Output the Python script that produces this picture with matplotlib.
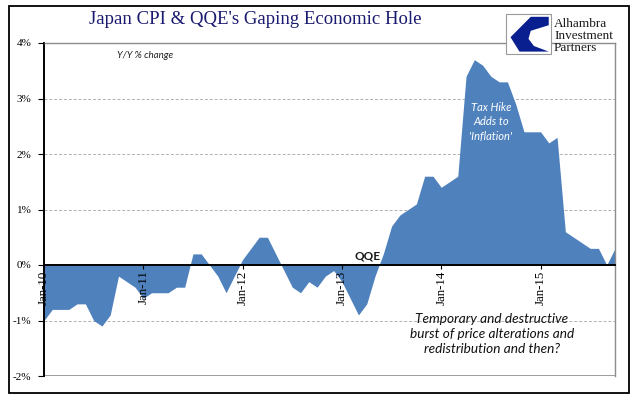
import matplotlib
matplotlib.use("Agg")
import matplotlib.pyplot as plt
from matplotlib.patches import Rectangle, Polygon
import numpy as np

# Japan CPI, Y/Y % change, monthly Jan-10 .. Oct-15
cpi_2010 = [-1.0, -0.8, -0.8, -0.8, -0.7, -0.7, -1.0, -1.1, -0.9, -0.2, -0.3, -0.4]
cpi_2011 = [-0.6, -0.5, -0.5, -0.5, -0.4, -0.4, 0.2, 0.2, 0.0, -0.2, -0.5, -0.2]
cpi_2012 = [0.1, 0.3, 0.5, 0.5, 0.2, -0.1, -0.4, -0.5, -0.3, -0.4, -0.2, -0.1]
cpi_2013 = [-0.3, -0.6, -0.9, -0.7, -0.2, 0.2, 0.7, 0.9, 1.0, 1.1, 1.6, 1.6]
cpi_2014 = [1.4, 1.5, 1.6, 3.4, 3.7, 3.6, 3.4, 3.3, 3.3, 2.9, 2.4, 2.4]
cpi_2015 = [2.4, 2.2, 2.3, 0.6, 0.5, 0.4, 0.3, 0.3, 0.0, 0.3]
cpi = cpi_2010 + cpi_2011 + cpi_2012 + cpi_2013 + cpi_2014 + cpi_2015

year_labels = ["Jan-10", "Jan-11", "Jan-12", "Jan-13", "Jan-14", "Jan-15"]
y_ticks = [-2, -1, 0, 1, 2, 3, 4]

W, H = 641, 401
fig = plt.figure(figsize=(W / 100, H / 100), dpi=100)


def fx(px):
    return px / W


def fy(py):
    return 1 - py / H


ax = fig.add_axes([fx(44), fy(376), fx(615) - fx(44), fy(43) - fy(376)])
x = np.arange(len(cpi))
ax.fill_between(x, cpi, 0, color="#4F81BD", linewidth=0, zorder=2)
ax.set_xlim(0, len(cpi) - 1)
ax.set_ylim(-2, 4)
ax.set_axisbelow(False)

# gridlines
for v in [-1, 1, 2, 3]:
    ax.axhline(v, color="#b0b0b0", lw=0.7, ls=(0, (3, 2)), zorder=1)
ax.axhline(-2, color="#8c8c8c", lw=1.2, zorder=1)

ax.spines["bottom"].set_position(("data", 0))
ax.spines["bottom"].set_color("black")
ax.spines["bottom"].set_linewidth(1.4)
ax.spines["bottom"].set_zorder(3)
ax.spines["left"].set_linewidth(1.4)
ax.spines["top"].set_color("#8c8c8c")
ax.spines["right"].set_color("#8c8c8c")
ax.spines["top"].set_linewidth(1.0)
ax.spines["right"].set_linewidth(1.0)

ax.set_xticks(range(0, len(cpi), 12))
ax.set_xticklabels(year_labels, rotation=90, family="Liberation Serif", fontsize=9.3)
ax.tick_params(axis="x", length=3, width=0.8, pad=1)
ax.set_yticks(y_ticks)
ax.set_yticklabels([f"{v}%" for v in y_ticks], family="Liberation Serif", fontsize=8)
ax.tick_params(axis="y", length=4, width=0.8, pad=5)

# text
fig.text(fx(255), fy(19), "Japan CPI & QQE's Gaping Economic Hole", ha="center", va="center",
         family="Liberation Serif", fontsize=13.5, color="#1a1a70")
fig.text(fx(145), fy(55), "Y/Y % change", ha="center", va="center",
         family="Lato", style="italic", fontsize=7, color="#222222")
fig.text(fx(368), fy(256), "QQE", ha="center", va="center",
         family="Lato", weight="bold", fontsize=8.5, color="#1a1a1a")
fig.text(fx(491), fy(122), "Tax Hike\nAdds to\n'Inflation'", ha="center", va="center",
         family="Lato", style="italic", fontsize=8, color="white", linespacing=1.35)
fig.text(fx(492), fy(334), "Temporary and destructive\nburst of price alterations and\nredistribution and then?",
         ha="center", va="center", family="Lato", style="italic", fontsize=9.8,
         color="#111111", linespacing=1.3)

# logo
bx0, by0, bx1, by1 = 506, 14, 551, 54
fig.patches.append(Rectangle((fx(bx0), fy(by1)), fx(bx1) - fx(bx0), fy(by0) - fy(by1),
                             transform=fig.transFigure, facecolor="white",
                             edgecolor="#9a9a9a", lw=0.8, zorder=5))
shape = [(0.95, 0.93), (0.55, 0.93), (0.1, 0.42), (0.3, 0.06), (0.95, 0.06),
         (0.62, 0.2), (0.5, 0.38), (0.55, 0.58), (0.95, 0.72)]
pts = [(fx(bx0 + u * (bx1 - bx0)), fy(by1 - v * (by1 - by0))) for u, v in shape]
fig.patches.append(Polygon(pts, closed=True, transform=fig.transFigure,
                           facecolor="#0a1f8f", edgecolor="none", zorder=6))
for i, word in enumerate(["Alhambra", "Investment", "Partners"]):
    fig.text(fx(554), fy(24 + 12 * i), word, ha="left", va="center",
             family="Liberation Serif", fontsize=9.5, color="#1a1a1a")

# outer frame
fig.patches.append(Rectangle((fx(9), fy(393)), fx(629) - fx(9), fy(6) - fy(393),
                             transform=fig.transFigure, fill=False,
                             edgecolor="black", lw=1.3, zorder=4))

fig.savefig("out.png", dpi=100)
